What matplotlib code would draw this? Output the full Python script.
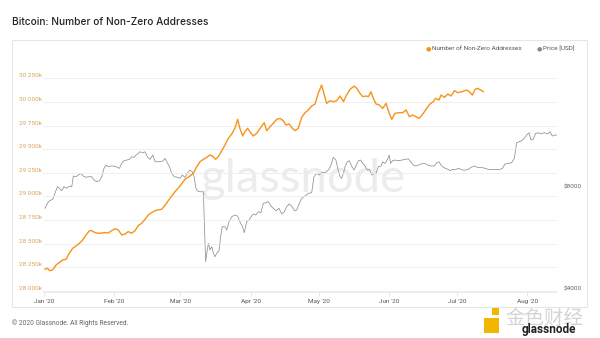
import numpy as np
import matplotlib
matplotlib.use("Agg")
import matplotlib.pyplot as plt
from matplotlib.patches import Rectangle

plt.rcParams['font.family'] = ['Roboto', 'DejaVu Sans']

# days since 2020-01-01 and number of non-zero addresses (k)
addr_days = [0.4, 1.5, 2.6, 3.8, 5.3, 6.7, 8.2, 9.7, 11.1, 12.6, 14.1, 15.6, 17, 18.5, 20, 21, 22.5, 23.9,
             25.4, 26.9, 28.3, 29.8, 31.3, 32.7, 34.2, 35.7, 37.1, 38.6, 40.1, 41.5, 43, 44.5, 45.9, 47.4,
             48.9, 50.4, 51.8, 53.3, 55, 57.7, 59.9, 62.1, 64.3, 65.8, 67.3, 68.7, 70.2, 71.7, 73.1, 74.6,
             75.6, 76.8, 78.3, 79.7, 81.2, 82.7, 84.1, 85.3, 86.3, 87.5, 88.5, 89.7, 90.7, 92.2, 93.7, 95.2,
             97, 98.1, 99.6, 101, 102.5, 104, 105.4, 106.5, 108, 109.4, 110.6, 112, 113.5, 115, 116.4, 117.9,
             119.4, 120.8, 122.3, 123.3, 124.5, 126, 127.4, 128.9, 130.4, 131.9, 133.3, 134.8, 136.6, 137.8,
             139.2, 140.4, 141.9, 142.9, 144, 145.1, 146.3, 147.7, 149.2, 150.7, 152.1, 153.2, 154.6, 156.1,
             158, 159.5, 161, 162.4, 163.9, 165.3, 167.1, 168.6, 170, 171.5, 172.5, 174, 174.9, 176.4, 177.9,
             179.3, 180.8, 182.3, 184, 186.2, 187.4, 188.7, 189.9, 191, 192.5, 193.5]
addr_k = [28229, 28240, 28215, 28222, 28275, 28300, 28328, 28335, 28398, 28451, 28476, 28504, 28539, 28592,
          28638, 28638, 28617, 28610, 28614, 28617, 28614, 28638, 28659, 28645, 28592, 28603, 28628, 28610,
          28638, 28691, 28716, 28758, 28804, 28829, 28850, 28857, 28864, 28905, 28965, 29051, 29111, 29181,
          29216, 29245, 29315, 29368, 29393, 29414, 29439, 29421, 29393, 29421, 29484, 29544, 29615, 29661,
          29721, 29816, 29721, 29640, 29685, 29721, 29685, 29640, 29668, 29721, 29781, 29696, 29738, 29774,
          29816, 29826, 29802, 29756, 29767, 29721, 29696, 29721, 29837, 29886, 29915, 29957, 29978, 30091,
          30179, 30091, 29985, 30013, 30003, 30013, 30063, 30003, 30073, 30133, 30168, 30144, 30091, 30056,
          30063, 30056, 30108, 30038, 29978, 29968, 29932, 29985, 29879, 29816, 29879, 29886, 29886, 29915,
          29844, 29862, 29844, 29826, 29879, 29932, 29978, 30003, 30038, 30020, 30073, 30049, 30084, 30063,
          30119, 30098, 30108, 30126, 30108, 30073, 30133, 30144, 30126, 30108]

# days since 2020-01-01 and BTC price (USD)
price_days = [0.4, 1.5, 2.4, 3.8, 4.8, 5.9, 6.8, 7.8, 8.8, 10, 11.2, 12.2, 12.9, 14.1, 15.1, 16.2, 17.3, 18.5,
              19.5, 21, 22, 23.2, 24.4, 25.4, 26.4, 27.3, 28.3, 29.4, 30.5, 31.7, 33.2, 34.2, 35.2, 36.4,
              37.6, 38.6, 39.6, 40.5, 41.6, 42.3, 43.5, 44.5, 45.5, 46.7, 47.9, 48.9, 49.9, 51.1, 52.3, 53.3,
              54.3, 55.3, 56.2, 57.4, 58.9, 59.9, 60.9, 62.1, 63.3, 64.3, 65.3, 66.2, 66.8, 67.5, 68.4, 70.2,
              70.6, 71.2, 71.8, 72.4, 73.1, 73.9, 74.6, 75.3, 76.1, 77.1, 77.8, 78.5, 79.7, 80.5, 81.5, 82.7,
              84.1, 85.3, 86.3, 87.4, 88.2, 89.3, 90.3, 91.2, 92.2, 93.3, 94.4, 95.6, 96.6, 97.7, 98.8, 100,
              101, 102.2, 103.5, 104.7, 105.9, 106.9, 107.9, 109.1, 110.3, 111.3, 112.5, 113.5, 115, 116.4,
              117.9, 118.9, 120.1, 121.3, 122.3, 123.8, 125.3, 126.3, 127.4, 128.6, 129.6, 130.4, 131.1,
              131.9, 132.6, 133.6, 134.5, 135.5, 136.6, 137.4, 138.5, 139.5, 140.4, 141.4, 142.4, 143.3,
              144.4, 145.4, 146.3, 147.3, 148.4, 149.2, 150.2, 151.2, 152.1, 152.7, 153.6, 154.6, 156.1,
              157.6, 159, 160.5, 161.5, 162.7, 163.9, 164.9, 166.1, 167.5, 169, 170.5, 171.9, 173, 174,
              175.2, 176.7, 178.1, 178.9, 179.9, 181.4, 182.8, 184.3, 185.8, 186.9, 188.1, 189.6, 191,
              192.5, 194.3, 195.7, 197.5, 199.4, 200.9, 201.9, 203.1, 204.6, 206, 207.2, 208.2, 209.3,
              210.4, 211.6, 212.6, 213.7, 214.5, 215.5, 216.6, 217.7, 218.9, 220.4, 221.9, 222.9, 223.9,
              224.8, 226]
price_usd = [7036, 7280, 7412, 7480, 7793, 8157, 8067, 7935, 8157, 8067, 8192, 8157, 8772, 8731, 8833, 8937,
             8772, 8695, 8731, 8731, 8536, 8439, 8497, 8731, 9248, 9457, 9349, 9393, 9393, 9349, 9248, 9566,
             9740, 9786, 9829, 10007, 9965, 10125, 10242, 10355, 10287, 10355, 10007, 9829, 10125, 9671,
             9671, 9671, 9720, 9896, 9607, 9349, 8937, 8731, 8695, 8635, 8833, 8695, 8974, 9139, 9033, 8695,
             8121, 7935, 7880, 7880, 6496, 4887, 5233, 5540, 5293, 5414, 5174, 5057, 5174, 5267, 5796, 6205,
             6205, 6067, 6422, 6644, 6722, 6675, 6422, 6205, 5958, 6422, 6496, 6644, 6768, 6722, 6877, 6830,
             7280, 7312, 7362, 7148, 7036, 6921, 7036, 6768, 6877, 7115, 7245, 7148, 6921, 6955, 7280, 7532,
             7653, 7793, 7830, 8731, 8937, 8833, 8974, 8974, 9139, 9393, 9965, 9786, 9139, 8731, 8635, 8937,
             9349, 9671, 9740, 9393, 9139, 9393, 9740, 9786, 9566, 9393, 9139, 9180, 8833, 8937, 8937, 9349,
             9393, 9671, 9566, 9786, 10125, 9566, 9740, 9786, 9740, 9786, 9829, 9870, 9671, 9457, 9393, 9457,
             9521, 9566, 9457, 9393, 9393, 9607, 9671, 9393, 9248, 9180, 9097, 9180, 9180, 9248, 9139, 9139,
             9180, 9307, 9393, 9307, 9307, 9248, 9180, 9180, 9180, 9180, 9248, 9521, 9566, 9607, 9896, 11013,
             11089, 11165, 11345, 11605, 11792, 11219, 11270, 11744, 11792, 11700, 11792, 11700, 11874, 11528,
             11605, 11605]

month_labels = ["Jan '20", "Feb '20", "Mar '20", "Apr '20", "May '20", "Jun '20", "Jul '20", "Aug '20"]
addr_ticks = [28000, 28250, 28500, 28750, 29000, 29250, 29500, 29750, 30000, 30250]
price_ticks = [4000, 8000]

start = np.datetime64('2020-01-01T00')


def to_dates(days):
    return start + np.round(np.array(days) * 24).astype('timedelta64[h]')


W, H = 600, 338
fig = plt.figure(figsize=(W / 100, H / 100), dpi=100)
fig.patch.set_facecolor('white')

# card frame
fig.add_artist(Rectangle((12 / W, 1 - 307 / H), 575 / W, 267 / H, transform=fig.transFigure,
                         facecolor='none', edgecolor='#e6e6e6', lw=0.8))

ax = fig.add_axes([43 / W, 1 - 292 / H, 514 / W, 227 / H])
ax2 = ax.twinx()

orange = '#f7931a'
ax.plot(to_dates(addr_days), addr_k, color=orange, lw=1.0, zorder=3)
ax2.plot(to_dates(price_days), price_usd, color='#8f8f8f', lw=0.55, zorder=3)

ax.set_ylim(27989, 30391)
ax.set_yticks(addr_ticks)
ax.set_yticklabels([f"{v // 1000} {v % 1000:03d}k" for v in addr_ticks])
plt.setp(ax.get_yticklabels(), va='bottom')
ax.tick_params(axis='y', length=0, pad=1, labelsize=4.6, labelcolor='#d9a35e')
ax.grid(axis='y', color='#ededed', lw=0.6)

ax2.set_yscale('log')
ax2.set_ylim(3973, 18730)
ax2.set_yticks(price_ticks)
ax2.set_yticklabels([f"${v}" for v in price_ticks])
ax2.yaxis.set_minor_locator(matplotlib.ticker.NullLocator())
plt.setp(ax2.get_yticklabels(), va='bottom')
ax2.tick_params(axis='y', length=0, pad=5, labelsize=4.6, labelcolor='#666666')

months = [np.datetime64(f'2020-{m:02d}-01') for m in range(1, 9)]
ax.set_xlim(start - np.timedelta64(11, 'h'), start + np.timedelta64(226 * 24, 'h'))
ax.set_xticks(months)
ax.set_xticklabels(month_labels)
ax.tick_params(axis='x', length=3, width=0.5, color='#dddddd', pad=2, labelsize=4.6, labelcolor='#555555')

for a in (ax, ax2):
    for s in a.spines.values():
        s.set_visible(False)
ax.spines['bottom'].set_visible(True)
ax.spines['bottom'].set_color('#e6e6e6')
ax.spines['bottom'].set_linewidth(0.6)
ax.set_zorder(2)
ax.patch.set_visible(False)
ax2.set_zorder(1)

# watermark
fig.text(200 / W, 1 - 192 / H, 'glassnode', fontsize=34, color='#ececec', family=['Lato', 'DejaVu Sans'],
         ha='left', va='baseline', zorder=0)

fig.text(12 / W, 1 - 22 / H, 'Bitcoin: Number of Non-Zero Addresses', fontsize=7.3, color='#222222',
         ha='left', va='center', family=['Inter', 'DejaVu Sans'], fontweight='medium')

# legend
fig.text(428 / W, 1 - 49 / H, '\u25cf', color=orange, fontsize=4.5, ha='center', va='center',
         family=['DejaVu Sans'])
fig.text(432 / W, 1 - 49 / H, 'Number of Non-Zero Addresses', color='#555555', fontsize=4.6,
         ha='left', va='center')
fig.text(539 / W, 1 - 49 / H, '\u25cf', color='#8a8a8a', fontsize=4.5, ha='center', va='center',
         family=['DejaVu Sans'])
fig.text(543 / W, 1 - 49 / H, 'Price [USD]', color='#555555', fontsize=4.6, ha='left', va='center')

fig.text(12 / W, 1 - 323 / H, '\u00a9 2020 Glassnode. All Rights Reserved.', color='#666666', fontsize=4.8,
         ha='left', va='center')

# third-party stamp bottom right
fig.add_artist(Rectangle((484 / W, 1 - 333 / H), 15 / W, 15 / H, transform=fig.transFigure,
                         facecolor='#f2b600', edgecolor='none'))
fig.add_artist(Rectangle((492 / W, 1 - 315 / H), 7 / W, 7 / H, transform=fig.transFigure,
                         facecolor='#f2b600', edgecolor='none'))
fig.text(505 / W, 1 - 318 / H, '金色财经', fontsize=14, color='#d4d4d4', ha='left', va='center',
         family=['Noto Sans CJK SC', 'DejaVu Sans'])
fig.text(522 / W, 1 - 329 / H, 'glassnode', fontsize=8.5, color='#222222', ha='left', va='center',
         fontweight='bold')

fig.savefig('out.png', dpi=100, facecolor='white')
